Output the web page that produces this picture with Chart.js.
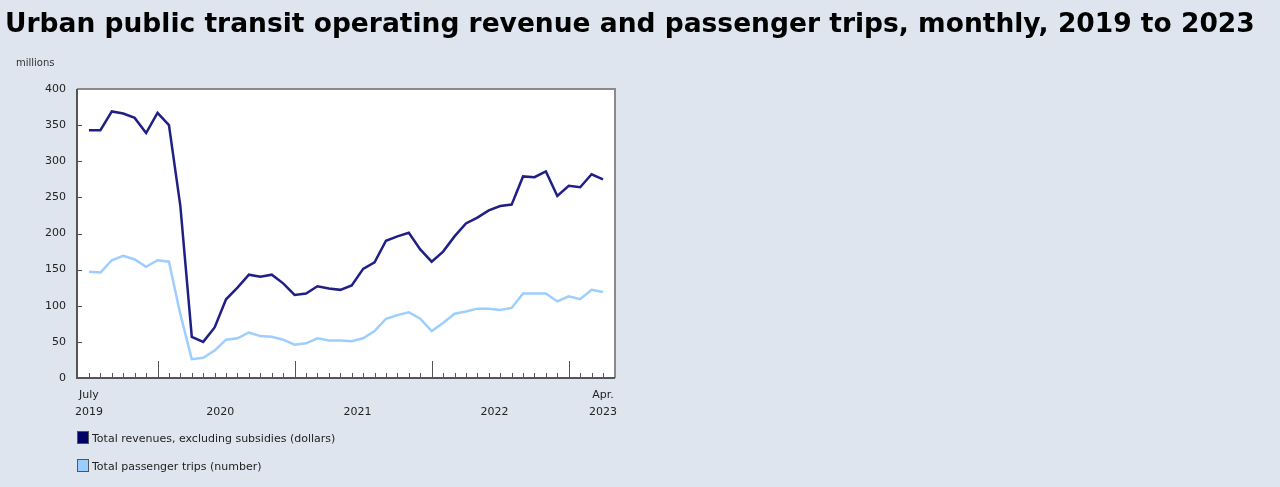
<!DOCTYPE html>
<html>
<head>
<meta charset="utf-8">
<script src="https://cdn.jsdelivr.net/npm/chart.js@4.4.0/dist/chart.umd.min.js"></script>
<style>
  html, body { margin: 0; padding: 0; background: #dfe5ee; }
  #title { position: absolute; left: 5px; top: 7.5px; margin: 0; font: bold 26.5px/30px "DejaVu Sans", sans-serif; color: #000; white-space: nowrap; }
  #wrap { position: absolute; left: 0; top: 0; width: 1280px; height: 487px; }
</style>
</head>
<body>
<div id="wrap"><canvas id="myChart" width="1280" height="487"></canvas></div>
<h1 id="title">Urban public transit operating revenue and passenger trips, monthly, 2019 to 2023</h1>
<script>
'use strict';

// July 2019 .. April 2023, one value per month (millions)
let months = ['2019-07', '2019-08', '2019-09', '2019-10', '2019-11', '2019-12',
  '2020-01', '2020-02', '2020-03', '2020-04', '2020-05', '2020-06', '2020-07', '2020-08', '2020-09', '2020-10', '2020-11', '2020-12',
  '2021-01', '2021-02', '2021-03', '2021-04', '2021-05', '2021-06', '2021-07', '2021-08', '2021-09', '2021-10', '2021-11', '2021-12',
  '2022-01', '2022-02', '2022-03', '2022-04', '2022-05', '2022-06', '2022-07', '2022-08', '2022-09', '2022-10', '2022-11', '2022-12',
  '2023-01', '2023-02', '2023-03', '2023-04'];

let revenues = [343, 343, 369, 366, 360, 339, 367, 350, 238, 57, 50, 70,
  109, 125, 143, 140, 143, 131, 115, 117, 127, 124, 122, 128,
  151, 160, 190, 196, 201, 178, 161, 175, 196, 214, 222, 232,
  238, 240, 279, 278, 286, 252, 266, 264, 282, 275];

let trips = [147, 146, 163, 169, 164, 154, 163, 161, 88, 26, 28, 38,
  53, 55, 63, 58, 57, 53, 46, 48, 55, 52, 52, 51,
  55, 65, 82, 87, 91, 82, 65, 76, 89, 92, 96, 96,
  94, 97, 117, 117, 117, 106, 113, 109, 122, 119];

let seriesNames = ['Total revenues, excluding subsidies (dollars)', 'Total passenger trips (number)'];
let yTicks = [0, 50, 100, 150, 200, 250, 300, 350, 400];
// x label positions (month index) and their text
let xLabelPos = [0, 11.5, 23.5, 35.5, 45];
let xLabelText = [['July', '2019'], ['', '2020'], ['', '2021'], ['', '2022'], ['Apr.', '2023']];
let yearStarts = [6, 18, 30, 42];

let lineCols = ['#1f1f86', '#9dcefd'];
let boxCols = ['#000066', '#99ccff'];
let font11 = { family: 'DejaVu Sans', size: 11 };

let framePlugin = {
  id: 'frame',
  beforeDatasetsDraw(chart) {
    let ctx = chart.ctx;
    let a = chart.chartArea;
    ctx.save();
    ctx.fillStyle = '#ffffff';
    ctx.fillRect(a.left, a.top, a.right - a.left, a.bottom - a.top);
    ctx.restore();
  },
  afterDatasetsDraw(chart) {
    let ctx = chart.ctx;
    let a = chart.chartArea;
    let xs = chart.scales.x;
    let ys = chart.scales.y;
    ctx.save();
    // top / right border
    ctx.strokeStyle = '#8a8a8a';
    ctx.lineWidth = 2;
    ctx.beginPath();
    ctx.moveTo(a.left, a.top);
    ctx.lineTo(a.right, a.top);
    ctx.lineTo(a.right, a.bottom);
    ctx.stroke();
    // left / bottom axis
    ctx.strokeStyle = '#555555';
    ctx.beginPath();
    ctx.moveTo(a.left, a.top);
    ctx.lineTo(a.left, a.bottom);
    ctx.lineTo(a.right, a.bottom);
    ctx.stroke();
    // tick marks point inward
    ctx.lineWidth = 1;
    ctx.beginPath();
    for (let i = 0; i < months.length; i++) {
      let x = Math.round(xs.getPixelForValue(i)) + 0.5;
      let len = yearStarts.includes(i) ? 17 : 5;
      ctx.moveTo(x, a.bottom);
      ctx.lineTo(x, a.bottom - len);
    }
    for (let v of yTicks) {
      if (v === 0 || v === 400) continue;
      let y = Math.round(ys.getPixelForValue(v)) + 0.5;
      ctx.moveTo(a.left, y);
      ctx.lineTo(a.left + 5, y);
    }
    ctx.stroke();
    ctx.restore();
  },
  afterDraw(chart) {
    let ctx = chart.ctx;
    ctx.save();
    ctx.font = '10px "DejaVu Sans"';
    ctx.fillStyle = '#333';
    ctx.fillText('millions', 16, 66);
    // legend
    let tops = [431, 459];
    ctx.font = '11px "DejaVu Sans"';
    for (let i = 0; i < 2; i++) {
      ctx.fillStyle = boxCols[i];
      ctx.fillRect(77, tops[i], 12, 13);
      ctx.strokeStyle = '#555';
      ctx.lineWidth = 1;
      ctx.strokeRect(77.5, tops[i] + 0.5, 11, 12);
      ctx.fillStyle = '#222';
      ctx.fillText(seriesNames[i], 92, tops[i] + 11);
    }
    ctx.restore();
  }
};

let canvasElem = document.getElementById('myChart');

new Chart(canvasElem, {
  type: 'line',
  data: {
    labels: months,
    datasets: [
      { label: seriesNames[0], data: revenues.map((v, i) => ({ x: i, y: v })), borderColor: lineCols[0], borderWidth: 2.5, pointRadius: 0, tension: 0 },
      { label: seriesNames[1], data: trips.map((v, i) => ({ x: i, y: v })), borderColor: lineCols[1], borderWidth: 2.5, pointRadius: 0, tension: 0 }
    ]
  },
  options: {
    responsive: false,
    animation: false,
    devicePixelRatio: 1,
    layout: { padding: { left: 0, top: 89, right: 665, bottom: 0 } },
    plugins: { legend: { display: false }, tooltip: { enabled: false }, title: { display: false } },
    scales: {
      x: {
        type: 'linear',
        min: -1.05,
        max: 46.05,
        grid: { display: false, drawTicks: false },
        border: { display: false },
        afterBuildTicks: (scale) => { scale.ticks = xLabelPos.map(v => ({ value: v })); },
        afterFit: (scale) => { scale.height = 109; },
        ticks: {
          autoSkip: false,
          maxRotation: 0,
          padding: 9,
          color: '#222',
          font: { family: 'DejaVu Sans', size: 11, lineHeight: 1.5 },
          callback: (v) => xLabelText[xLabelPos.indexOf(v)]
        }
      },
      y: {
        min: 0,
        max: 400,
        grid: { display: false, drawTicks: false },
        border: { display: false },
        afterBuildTicks: (scale) => { scale.ticks = yTicks.map(v => ({ value: v })); },
        afterFit: (scale) => { scale.width = 77; },
        ticks: { padding: 11, color: '#222', font: font11 }
      }
    }
  },
  plugins: [framePlugin]
});
</script>
</body>
</html>
